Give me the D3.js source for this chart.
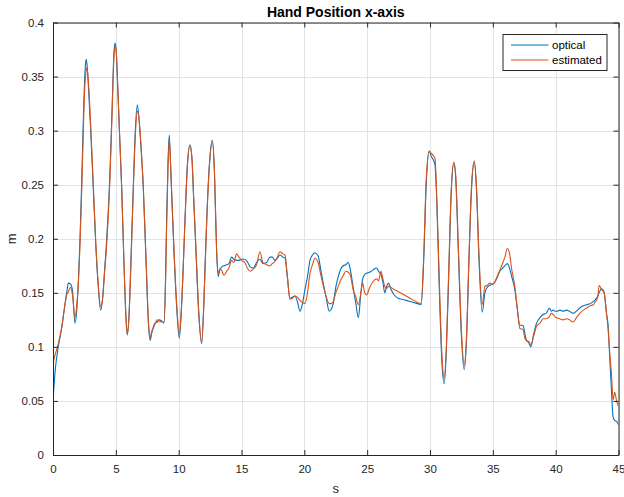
<!DOCTYPE html>
<html>
<head>
<meta charset="utf-8">
<script src="https://cdn.jsdelivr.net/npm/d3@7"></script>
<style>
  html, body { margin: 0; padding: 0; background: #fff; }
  svg { display: block; font-family: "Liberation Sans", Arial, Helvetica, sans-serif; }
</style>
</head>
<body>
<svg id="chart" width="624" height="497"></svg>
<script>
// Hand position along the x-axis: optical measurement vs. estimate (time in s, position in m)
const seconds = [
  0.00, 0.15, 0.42, 0.69, 0.90, 1.09, 1.22, 1.40, 1.55, 1.75, 1.90, 2.00, 2.15, 2.30, 2.45, 2.55, 2.63, 2.70, 2.80, 3.00,
  3.20, 3.40, 3.60, 3.79, 3.95, 4.10, 4.30, 4.53, 4.70, 4.85, 4.93, 5.02, 5.15, 5.30, 5.46, 5.65, 5.80, 5.91, 6.05, 6.20,
  6.39, 6.55, 6.71, 6.85, 7.00, 7.18, 7.40, 7.60, 7.72, 7.85, 8.00, 8.11, 8.30, 8.45, 8.64, 8.83, 8.95, 9.04, 9.15, 9.25,
  9.35, 9.48, 9.63, 9.85, 10.05, 10.20, 10.35, 10.50, 10.70, 10.90, 11.05, 11.20, 11.38, 11.60, 11.83, 12.00, 12.10, 12.23, 12.45, 12.68,
  12.85, 13.02, 13.15, 13.25, 13.42, 13.60, 13.82, 14.00, 14.21, 14.40, 14.60, 14.80, 15.00, 15.27, 15.50, 15.70, 15.94, 16.20, 16.47, 16.70,
  17.00, 17.26, 17.45, 17.66, 17.85, 18.06, 18.30, 18.46, 18.65, 18.85, 19.05, 19.25, 19.45, 19.65, 19.85, 20.05, 20.25, 20.45, 20.65, 20.84,
  21.10, 21.30, 21.50, 21.75, 21.98, 22.15, 22.30, 22.50, 22.70, 22.90, 23.10, 23.30, 23.50, 23.65, 23.90, 24.10, 24.30, 24.50, 24.64, 24.80,
  24.95, 25.20, 25.45, 25.75, 25.90, 26.10, 26.25, 26.40, 26.55, 26.70, 26.90, 27.15, 27.47, 27.80, 28.10, 28.40, 28.70, 29.00, 29.30, 29.50,
  29.70, 29.94, 30.10, 30.26, 30.40, 30.55, 30.75, 30.95, 31.13, 31.30, 31.50, 31.70, 31.90, 32.05, 32.25, 32.50, 32.72, 32.90, 33.10, 33.30,
  33.52, 33.70, 33.90, 34.15, 34.37, 34.55, 34.77, 35.00, 35.16, 35.30, 35.56, 35.80, 35.96, 36.15, 36.30, 36.50, 36.75, 36.95, 37.15, 37.40,
  37.55, 37.68, 37.85, 38.03, 38.25, 38.48, 38.75, 39.00, 39.25, 39.49, 39.65, 39.80, 39.94, 40.10, 40.33, 40.60, 40.86, 41.10, 41.39, 41.65,
  41.92, 42.20, 42.46, 42.75, 43.00, 43.12, 43.35, 43.46, 43.65, 43.85, 44.05, 44.18, 44.30, 44.44, 44.57, 44.70, 44.85, 45.00
];

const optical = [
  0.049, 0.075, 0.100, 0.117, 0.135, 0.150, 0.159, 0.158, 0.152, 0.122, 0.135, 0.156, 0.200, 0.260, 0.325, 0.355, 0.366, 0.362, 0.345, 0.300,
  0.248, 0.195, 0.156, 0.134, 0.145, 0.170, 0.205, 0.260, 0.320, 0.372, 0.381, 0.375, 0.340, 0.295, 0.248, 0.175, 0.128, 0.111, 0.130, 0.180,
  0.248, 0.300, 0.324, 0.310, 0.285, 0.248, 0.180, 0.120, 0.106, 0.112, 0.119, 0.122, 0.123, 0.125, 0.124, 0.122, 0.160, 0.217, 0.270, 0.296,
  0.270, 0.230, 0.187, 0.135, 0.108, 0.130, 0.170, 0.217, 0.270, 0.287, 0.275, 0.235, 0.187, 0.130, 0.103, 0.140, 0.175, 0.217, 0.270, 0.291,
  0.260, 0.187, 0.165, 0.170, 0.174, 0.175, 0.176, 0.177, 0.183, 0.181, 0.180, 0.180, 0.181, 0.181, 0.178, 0.174, 0.173, 0.178, 0.181, 0.177,
  0.178, 0.183, 0.183, 0.180, 0.182, 0.185, 0.183, 0.182, 0.165, 0.145, 0.146, 0.147, 0.142, 0.133, 0.140, 0.153, 0.165, 0.180, 0.185, 0.187,
  0.184, 0.172, 0.159, 0.145, 0.133, 0.135, 0.140, 0.155, 0.165, 0.172, 0.175, 0.176, 0.178, 0.172, 0.154, 0.140, 0.127, 0.150, 0.163, 0.167,
  0.168, 0.169, 0.171, 0.173, 0.170, 0.167, 0.160, 0.150, 0.156, 0.159, 0.153, 0.148, 0.145, 0.144, 0.143, 0.142, 0.141, 0.140, 0.139, 0.180,
  0.250, 0.281, 0.276, 0.273, 0.268, 0.230, 0.150, 0.085, 0.066, 0.095, 0.170, 0.245, 0.270, 0.255, 0.190, 0.110, 0.079, 0.105, 0.180, 0.245,
  0.271, 0.245, 0.180, 0.132, 0.150, 0.155, 0.157, 0.158, 0.160, 0.163, 0.170, 0.173, 0.175, 0.177, 0.174, 0.165, 0.153, 0.135, 0.120, 0.120,
  0.112, 0.106, 0.104, 0.100, 0.112, 0.122, 0.127, 0.130, 0.131, 0.136, 0.133, 0.134, 0.133, 0.133, 0.134, 0.133, 0.134, 0.133, 0.131, 0.133,
  0.136, 0.138, 0.139, 0.140, 0.142, 0.143, 0.147, 0.150, 0.154, 0.151, 0.130, 0.119, 0.090, 0.060, 0.035, 0.032, 0.031, 0.028
];

const estimated = [
  0.085, 0.092, 0.103, 0.118, 0.135, 0.148, 0.151, 0.155, 0.148, 0.127, 0.140, 0.155, 0.195, 0.250, 0.315, 0.345, 0.355, 0.358, 0.348, 0.305,
  0.252, 0.198, 0.158, 0.137, 0.145, 0.168, 0.200, 0.255, 0.315, 0.368, 0.378, 0.375, 0.342, 0.297, 0.250, 0.178, 0.130, 0.112, 0.128, 0.175,
  0.245, 0.295, 0.318, 0.310, 0.287, 0.250, 0.183, 0.123, 0.108, 0.114, 0.118, 0.121, 0.125, 0.124, 0.123, 0.123, 0.155, 0.210, 0.265, 0.292,
  0.272, 0.232, 0.190, 0.138, 0.112, 0.132, 0.170, 0.215, 0.268, 0.286, 0.276, 0.237, 0.190, 0.133, 0.104, 0.138, 0.172, 0.215, 0.268, 0.290,
  0.262, 0.190, 0.168, 0.172, 0.171, 0.166, 0.170, 0.173, 0.180, 0.178, 0.186, 0.183, 0.180, 0.178, 0.172, 0.170, 0.172, 0.176, 0.188, 0.178,
  0.176, 0.175, 0.177, 0.179, 0.183, 0.188, 0.186, 0.185, 0.165, 0.144, 0.145, 0.147, 0.146, 0.143, 0.141, 0.140, 0.150, 0.168, 0.176, 0.182,
  0.178, 0.167, 0.157, 0.146, 0.140, 0.140, 0.142, 0.150, 0.156, 0.162, 0.166, 0.170, 0.169, 0.167, 0.152, 0.146, 0.139, 0.150, 0.159, 0.150,
  0.148, 0.155, 0.160, 0.163, 0.161, 0.170, 0.163, 0.156, 0.154, 0.156, 0.155, 0.153, 0.151, 0.149, 0.147, 0.145, 0.143, 0.141, 0.140, 0.185,
  0.255, 0.281, 0.279, 0.277, 0.274, 0.235, 0.158, 0.092, 0.071, 0.100, 0.175, 0.248, 0.271, 0.258, 0.195, 0.115, 0.083, 0.108, 0.182, 0.248,
  0.272, 0.248, 0.185, 0.139, 0.156, 0.157, 0.159, 0.158, 0.160, 0.164, 0.171, 0.178, 0.183, 0.191, 0.188, 0.172, 0.156, 0.135, 0.117, 0.116,
  0.108, 0.106, 0.105, 0.102, 0.110, 0.119, 0.122, 0.126, 0.126, 0.128, 0.131, 0.130, 0.128, 0.127, 0.126, 0.125, 0.126, 0.125, 0.123, 0.127,
  0.131, 0.134, 0.136, 0.138, 0.139, 0.141, 0.146, 0.157, 0.153, 0.150, 0.131, 0.115, 0.095, 0.075, 0.051, 0.058, 0.050, 0.045
];

const seriesNames = ["optical", "estimated"];
const seriesColors = ["#0072BD", "#D95319"];
const xTicks = [0, 5, 10, 15, 20, 25, 30, 35, 40, 45];
const yTicks = [0, 0.05, 0.1, 0.15, 0.2, 0.25, 0.3, 0.35, 0.4];

const W = 624, H = 497;
const margin = { left: 53, right: 5.5, top: 22.5, bottom: 42 };
const innerW = W - margin.left - margin.right;
const innerH = H - margin.top - margin.bottom;
const axisColor = "#262626";

const svg = d3.select("#chart");
const x = d3.scaleLinear().domain([0, 45]).range([margin.left, margin.left + innerW]);
const y = d3.scaleLinear().domain([0, 0.4]).range([margin.top + innerH, margin.top]);

// grid
const grid = svg.append("g").attr("stroke", "#e3e3e3").attr("stroke-width", 1);
grid.selectAll("line.gx").data(xTicks).join("line")
  .attr("x1", d => Math.round(x(d)) + 0.5).attr("x2", d => Math.round(x(d)) + 0.5)
  .attr("y1", margin.top).attr("y2", margin.top + innerH);
grid.selectAll("line.gy").data(yTicks).join("line")
  .attr("y1", d => Math.round(y(d)) + 0.5).attr("y2", d => Math.round(y(d)) + 0.5)
  .attr("x1", margin.left).attr("x2", margin.left + innerW);

// series
svg.append("clipPath").attr("id", "plot-clip").append("rect")
  .attr("x", margin.left).attr("y", margin.top).attr("width", innerW).attr("height", innerH);

const line = d3.line()
  .x((d, i) => x(seconds[i]))
  .y(d => y(d))
  .curve(d3.curveMonotoneX);

const seriesValues = [optical, estimated];
svg.append("g").attr("clip-path", "url(#plot-clip)")
  .selectAll("path").data(seriesValues).join("path")
  .attr("d", d => line(d))
  .attr("fill", "none")
  .attr("stroke", (d, i) => seriesColors[i])
  .attr("stroke-width", 1.1)
  .attr("stroke-linejoin", "round");

// axes: ticks point inward, drawn on all four sides
const tickLen = 5;
const xAxisB = d3.axisBottom(x).tickValues(xTicks).tickSizeInner(-tickLen).tickSizeOuter(0).tickPadding(10).tickFormat(d3.format("~g"));
const xAxisT = d3.axisTop(x).tickValues(xTicks).tickSizeInner(-tickLen).tickSizeOuter(0).tickFormat("");
const yAxisL = d3.axisLeft(y).tickValues(yTicks).tickSizeInner(-tickLen).tickSizeOuter(0).tickPadding(9).tickFormat(d3.format("~g"));
const yAxisR = d3.axisRight(y).tickValues(yTicks).tickSizeInner(-tickLen).tickSizeOuter(0).tickFormat("");

function styleAxis(g) {
  g.select(".domain").attr("stroke", axisColor).attr("stroke-width", 1);
  g.selectAll(".tick line").attr("stroke", axisColor).attr("stroke-width", 1);
  g.selectAll(".tick text").attr("fill", axisColor).attr("font-size", "11.5px")
    .attr("font-family", "'Liberation Sans', Arial, sans-serif");
}

svg.append("g").attr("transform", `translate(0,${margin.top + innerH})`).call(xAxisB).call(styleAxis);
svg.append("g").attr("transform", `translate(0,${margin.top})`).call(xAxisT).call(styleAxis);
svg.append("g").attr("transform", `translate(${margin.left},0)`).call(yAxisL).call(styleAxis);
svg.append("g").attr("transform", `translate(${margin.left + innerW},0)`).call(yAxisR).call(styleAxis);

// title and axis labels
svg.append("text")
  .attr("x", margin.left + innerW / 2).attr("y", 16.5)
  .attr("text-anchor", "middle").attr("font-size", "14px").attr("font-weight", "bold")
  .attr("fill", "#000").text("Hand Position x-axis");

svg.append("text")
  .attr("x", margin.left + innerW / 2).attr("y", 493)
  .attr("text-anchor", "middle").attr("font-size", "13px").attr("fill", axisColor).text("s");

svg.append("text")
  .attr("transform", `translate(16,${margin.top + innerH / 2}) rotate(-90)`)
  .attr("text-anchor", "middle").attr("font-size", "13px").attr("fill", axisColor).text("m");

// legend
const legend = svg.append("g").attr("transform", "translate(503,34.5)");
legend.append("rect").attr("width", 104).attr("height", 36)
  .attr("fill", "#fff").attr("stroke", axisColor).attr("stroke-width", 1);
const items = legend.selectAll("g.item").data(seriesNames).join("g")
  .attr("transform", (d, i) => `translate(0,${10.5 + i * 15})`);
items.append("line").attr("x1", 8).attr("x2", 45.5)
  .attr("stroke", (d, i) => seriesColors[i]).attr("stroke-width", 1.1);
items.append("text").attr("x", 49).attr("dy", "0.35em")
  .attr("font-size", "11.5px").attr("fill", "#000").text(d => d);
</script>
</body>
</html>
